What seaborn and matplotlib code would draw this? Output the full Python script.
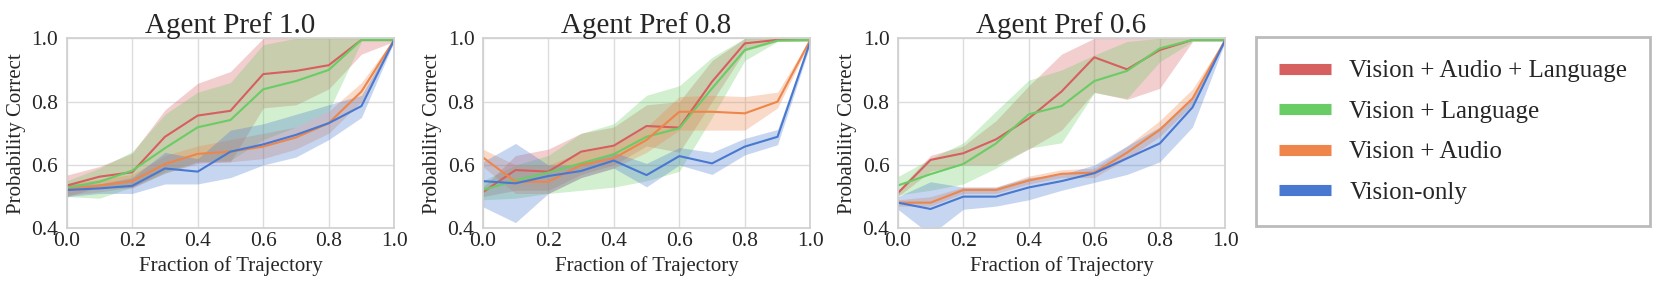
import numpy as np
import pandas as pd
import matplotlib
matplotlib.use("Agg")
import matplotlib.pyplot as plt
from matplotlib.lines import Line2D
import seaborn as sns

# ---------------- data ----------------
fraction = [0.0, 0.1, 0.2, 0.3, 0.4, 0.5, 0.6, 0.7, 0.8, 0.9, 1.0]
series_names = ["Vision + Audio + Language", "Vision + Language", "Vision + Audio", "Vision-only"]
panel_titles = ["Agent Pref 1.0", "Agent Pref 0.8", "Agent Pref 0.6"]
x_ticks = [0.0, 0.2, 0.4, 0.6, 0.8, 1.0]
y_ticks = [0.4, 0.6, 0.8, 1.0]

# Agent Pref 1.0
pref10_val_mean = [0.535, 0.563, 0.577, 0.689, 0.756, 0.771, 0.887, 0.897, 0.915, 0.995, 0.995]
pref10_val_lo   = [0.500, 0.530, 0.527, 0.574, 0.605, 0.610, 0.780, 0.790, 0.840, 0.950, 0.990]
pref10_val_hi   = [0.568, 0.595, 0.637, 0.774, 0.858, 0.895, 1.000, 1.000, 1.000, 1.000, 1.000]
pref10_vl_mean  = [0.528, 0.547, 0.582, 0.653, 0.719, 0.742, 0.839, 0.865, 0.900, 0.995, 0.995]
pref10_vl_lo    = [0.500, 0.495, 0.530, 0.575, 0.610, 0.615, 0.680, 0.720, 0.770, 0.990, 0.990]
pref10_vl_hi    = [0.550, 0.590, 0.642, 0.760, 0.830, 0.860, 0.980, 1.000, 1.000, 1.000, 1.000]
pref10_va_mean  = [0.523, 0.535, 0.549, 0.603, 0.635, 0.642, 0.658, 0.687, 0.732, 0.832, 0.995]
pref10_va_lo    = [0.505, 0.515, 0.530, 0.580, 0.610, 0.610, 0.620, 0.650, 0.700, 0.800, 0.990]
pref10_va_hi    = [0.540, 0.555, 0.570, 0.630, 0.660, 0.680, 0.700, 0.720, 0.770, 0.860, 1.000]
pref10_v_mean   = [0.521, 0.526, 0.534, 0.589, 0.579, 0.642, 0.665, 0.695, 0.732, 0.786, 0.995]
pref10_v_lo     = [0.500, 0.510, 0.510, 0.540, 0.540, 0.560, 0.600, 0.625, 0.680, 0.750, 0.990]
pref10_v_hi     = [0.540, 0.540, 0.560, 0.640, 0.620, 0.710, 0.730, 0.760, 0.790, 0.820, 1.000]

# Agent Pref 0.8
pref08_val_mean = [0.514, 0.584, 0.579, 0.642, 0.661, 0.723, 0.718, 0.863, 0.984, 0.995, 0.995]
pref08_val_lo   = [0.500, 0.520, 0.520, 0.570, 0.600, 0.660, 0.640, 0.800, 0.960, 0.990, 0.990]
pref08_val_hi   = [0.530, 0.630, 0.650, 0.700, 0.720, 0.790, 0.800, 0.930, 1.000, 1.000, 1.000]
pref08_vl_mean  = [0.521, 0.551, 0.576, 0.605, 0.634, 0.689, 0.716, 0.842, 0.963, 0.993, 0.995]
pref08_vl_lo    = [0.490, 0.495, 0.510, 0.520, 0.530, 0.550, 0.580, 0.750, 0.930, 0.990, 0.990]
pref08_vl_hi    = [0.550, 0.600, 0.630, 0.700, 0.730, 0.820, 0.850, 0.940, 1.000, 1.000, 1.000]
pref08_va_mean  = [0.624, 0.547, 0.547, 0.600, 0.621, 0.679, 0.768, 0.768, 0.763, 0.800, 0.995]
pref08_va_lo    = [0.595, 0.510, 0.510, 0.560, 0.590, 0.640, 0.710, 0.710, 0.710, 0.780, 0.990]
pref08_va_hi    = [0.650, 0.600, 0.600, 0.640, 0.660, 0.720, 0.816, 0.820, 0.816, 0.830, 1.000]
pref08_v_mean   = [0.549, 0.542, 0.565, 0.581, 0.614, 0.568, 0.628, 0.605, 0.658, 0.689, 0.990]
pref08_v_lo     = [0.468, 0.418, 0.510, 0.560, 0.590, 0.531, 0.600, 0.570, 0.632, 0.664, 0.980]
pref08_v_hi     = [0.610, 0.668, 0.600, 0.600, 0.640, 0.605, 0.655, 0.640, 0.684, 0.712, 1.000]

# Agent Pref 0.6
pref06_val_mean = [0.511, 0.616, 0.637, 0.681, 0.747, 0.832, 0.940, 0.902, 0.963, 0.995, 0.995]
pref06_val_lo   = [0.500, 0.580, 0.600, 0.600, 0.650, 0.710, 0.830, 0.807, 0.842, 0.990, 0.990]
pref06_val_hi   = [0.520, 0.630, 0.660, 0.740, 0.850, 0.950, 1.000, 1.000, 1.000, 1.000, 1.000]
pref06_vl_mean  = [0.535, 0.571, 0.603, 0.668, 0.760, 0.786, 0.865, 0.897, 0.968, 0.995, 0.995]
pref06_vl_lo    = [0.505, 0.520, 0.540, 0.590, 0.653, 0.670, 0.828, 0.810, 0.926, 0.990, 0.990]
pref06_vl_hi    = [0.563, 0.620, 0.670, 0.770, 0.868, 0.900, 0.947, 0.990, 1.000, 1.000, 1.000]
pref06_va_mean  = [0.481, 0.481, 0.521, 0.521, 0.551, 0.572, 0.576, 0.639, 0.711, 0.810, 0.995]
pref06_va_lo    = [0.470, 0.470, 0.510, 0.510, 0.540, 0.560, 0.560, 0.620, 0.690, 0.790, 0.990]
pref06_va_hi    = [0.490, 0.500, 0.530, 0.530, 0.565, 0.585, 0.590, 0.660, 0.740, 0.840, 1.000]
pref06_v_mean   = [0.481, 0.461, 0.500, 0.500, 0.529, 0.549, 0.574, 0.621, 0.668, 0.782, 0.995]
pref06_v_lo     = [0.460, 0.380, 0.460, 0.470, 0.490, 0.520, 0.545, 0.570, 0.610, 0.720, 0.990]
pref06_v_hi     = [0.500, 0.547, 0.530, 0.530, 0.560, 0.570, 0.600, 0.660, 0.720, 0.810, 1.000]

panels = [
    [(pref10_val_lo, pref10_val_mean, pref10_val_hi), (pref10_vl_lo, pref10_vl_mean, pref10_vl_hi),
     (pref10_va_lo, pref10_va_mean, pref10_va_hi), (pref10_v_lo, pref10_v_mean, pref10_v_hi)],
    [(pref08_val_lo, pref08_val_mean, pref08_val_hi), (pref08_vl_lo, pref08_vl_mean, pref08_vl_hi),
     (pref08_va_lo, pref08_va_mean, pref08_va_hi), (pref08_v_lo, pref08_v_mean, pref08_v_hi)],
    [(pref06_val_lo, pref06_val_mean, pref06_val_hi), (pref06_vl_lo, pref06_vl_mean, pref06_vl_hi),
     (pref06_va_lo, pref06_va_mean, pref06_va_hi), (pref06_v_lo, pref06_v_mean, pref06_v_hi)],
]

# ---------------- style ----------------
sns.set_theme(style="whitegrid")
plt.rcParams["font.family"] = ["Liberation Serif", "DejaVu Serif"]
plt.rcParams["mathtext.fontset"] = "stix"

muted = sns.color_palette("muted")
palette = {series_names[0]: muted[3], series_names[1]: muted[2],
           series_names[2]: muted[1], series_names[3]: muted[0]}

fig = plt.figure(figsize=(16.61, 2.84), dpi=100)
W, H = 1661.0, 284.0
lefts = [66.7, 482.8, 897.8]
ax_w = 327.5
ax_top, ax_bot = 38.3, 228.3

for i, (title, pdata) in enumerate(zip(panel_titles, panels)):
    ax = fig.add_axes([lefts[i] / W, 1 - ax_bot / H, ax_w / W, (ax_bot - ax_top) / H])
    rows = []
    for name, (lo, mean, hi) in zip(series_names, pdata):
        for xv, a, m, b in zip(fraction, lo, mean, hi):
            rows += [(xv, a, name), (xv, m, name), (xv, b, name)]
    df = pd.DataFrame(rows, columns=["fraction", "prob", "modality"])
    sns.lineplot(data=df, x="fraction", y="prob", hue="modality", hue_order=series_names,
                 palette=palette, estimator="median", errorbar=("pi", 100),
                 err_kws={"alpha": 0.3, "linewidth": 0},
                 linewidth=1.5, ax=ax, legend=False)
    ax.set_xlim(0, 1)
    ax.set_ylim(0.4, 1.0)
    ax.set_xticks(x_ticks)
    ax.set_yticks(y_ticks)
    ax.set_xticklabels([f"{t:.1f}" for t in x_ticks])
    ax.set_yticklabels([f"{t:.1f}" for t in y_ticks])
    ax.tick_params(axis="both", length=0)
    ax.tick_params(axis="x", labelsize=15.5, pad=2.5)
    ax.tick_params(axis="y", labelsize=15.5, pad=6)
    ax.set_xlabel("Fraction of Trajectory", fontsize=15, labelpad=4)
    ax.set_ylabel("Probability Correct", fontsize=15, labelpad=4)
    ax.set_title(title, fontsize=21, pad=4)
    for s in ax.spines.values():
        s.set_color("#d0d0d0")
    ax.grid(color="#dcdcdc")

handles = [Line2D([0], [0], color=palette[n], lw=8, solid_capstyle="butt") for n in series_names]
leg = fig.legend(handles, series_names, loc="upper left",
                 bbox_to_anchor=(1256 / W, 1 - 37.3 / H), bbox_transform=fig.transFigure,
                 fontsize=18, frameon=True, fancybox=False, borderaxespad=0,
                 handlelength=2.1, handletextpad=0.73, borderpad=0.9, labelspacing=0.72)
frame = leg.get_frame()
frame.set_edgecolor("#bbbbbb")
frame.set_linewidth(2)
frame.set_alpha(1)

fig.savefig("out.png", dpi=100)
